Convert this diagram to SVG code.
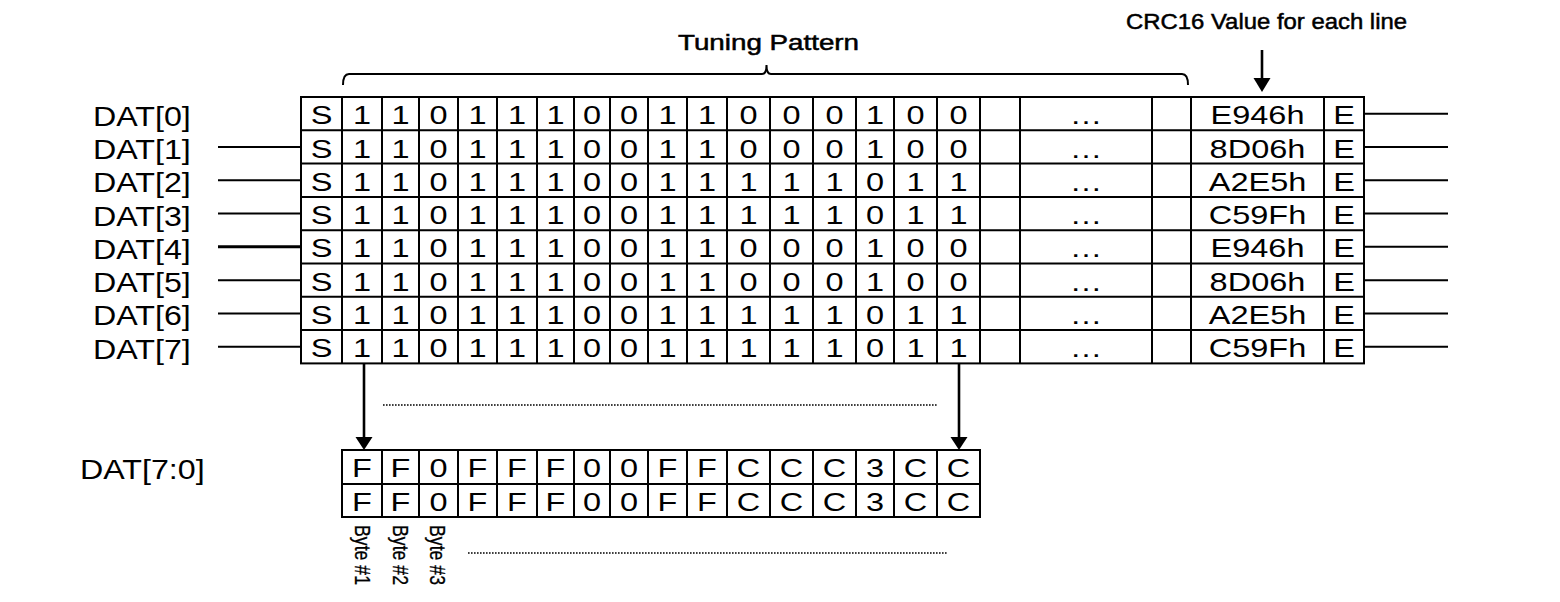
<svg xmlns="http://www.w3.org/2000/svg" width="1560" height="602" viewBox="0 0 1560 602">
<style>
.t{font-family:"Liberation Sans",Arial,sans-serif;font-size:25px;fill:#000;text-anchor:middle}
.lb{font-family:"Liberation Sans",Arial,sans-serif;font-size:28px;fill:#000}
.by{font-family:"Liberation Sans",Arial,sans-serif;font-size:22px;fill:#000;stroke:#000;stroke-width:0.3}
.hd{font-family:"Liberation Sans",Arial,sans-serif;font-size:22px;fill:#000;stroke:#000;stroke-width:0.5}
.g{stroke:#000;stroke-width:2;fill:none}
.ln{stroke:#000;stroke-width:2;fill:none}
.ar{stroke:#000;stroke-width:2.6;fill:none}
.dot{stroke:#000;stroke-width:1.6;stroke-dasharray:1.6 1.4;fill:none}
</style>
<rect width="1560" height="602" fill="#fff"/>

<!-- headings -->
<g id="heading-tuning">
<text class="hd" x="678" y="49.5" textLength="181" lengthAdjust="spacingAndGlyphs">Tuning Pattern</text>
<path class="g" d="M343,85 Q343,74 349,74 L762,74 Q766.5,74 766.5,65 Q766.5,74 771,74 L1182,74 Q1188,74 1188,85"/>
</g>
<g id="heading-crc">
<text class="hd" x="1126" y="28.5" textLength="281" lengthAdjust="spacingAndGlyphs">CRC16 Value for each line</text>
</g>

<!-- top grid -->
<g id="grid-top" class="g">
<rect x="301" y="97" width="1063" height="266.4"/>
<path d="M342,97V363.4M382,97V363.4M419,97V363.4M458,97V363.4M497,97V363.4M537,97V363.4M574,97V363.4M610,97V363.4M648,97V363.4M687,97V363.4M727,97V363.4M770,97V363.4M813,97V363.4M856,97V363.4M894,97V363.4M937,97V363.4M980,97V363.4M1020,97V363.4M1152,97V363.4M1191,97V363.4M1324,97V363.4"/>
<path d="M301,130.3H1364M301,163.6H1364M301,196.9H1364M301,230.2H1364M301,263.5H1364M301,296.8H1364M301,330.1H1364"/>
</g>

<!-- row labels -->
<g id="labels" class="lb" transform="scale(1.15 1)">
<text x="80.9" y="125.7">DAT[0]</text>
<text x="80.9" y="159">DAT[1]</text>
<text x="80.9" y="192.3">DAT[2]</text>
<text x="80.9" y="225.6">DAT[3]</text>
<text x="80.9" y="258.9">DAT[4]</text>
<text x="80.9" y="292.2">DAT[5]</text>
<text x="80.9" y="325.5">DAT[6]</text>
<text x="80.9" y="358.8">DAT[7]</text>
<text x="69.6" y="479.3">DAT[7:0]</text>
</g>

<!-- rows (scaled x by 1.3) -->
<g id="row0" class="t" transform="scale(1.3 1)">
<text x="247.31" y="124.3">S</text><text x="278.46" y="124.3">1</text><text x="308.08" y="124.3">1</text><text x="337.31" y="124.3">0</text><text x="367.31" y="124.3">1</text><text x="397.69" y="124.3">1</text><text x="427.31" y="124.3">1</text><text x="455.38" y="124.3">0</text><text x="483.85" y="124.3">0</text><text x="513.46" y="124.3">1</text><text x="543.85" y="124.3">1</text><text x="575.77" y="124.3">0</text><text x="608.85" y="124.3">0</text><text x="641.92" y="124.3">0</text><text x="673.08" y="124.3">1</text><text x="704.23" y="124.3">0</text><text x="737.31" y="124.3">0</text><text x="835.38" y="124.3">…</text><text x="967.31" y="124.3">E946h</text><text x="1033.85" y="124.3">E</text>
</g>
<g id="row1" class="t" transform="scale(1.3 1)">
<text x="247.31" y="157.6">S</text><text x="278.46" y="157.6">1</text><text x="308.08" y="157.6">1</text><text x="337.31" y="157.6">0</text><text x="367.31" y="157.6">1</text><text x="397.69" y="157.6">1</text><text x="427.31" y="157.6">1</text><text x="455.38" y="157.6">0</text><text x="483.85" y="157.6">0</text><text x="513.46" y="157.6">1</text><text x="543.85" y="157.6">1</text><text x="575.77" y="157.6">0</text><text x="608.85" y="157.6">0</text><text x="641.92" y="157.6">0</text><text x="673.08" y="157.6">1</text><text x="704.23" y="157.6">0</text><text x="737.31" y="157.6">0</text><text x="835.38" y="157.6">…</text><text x="967.31" y="157.6">8D06h</text><text x="1033.85" y="157.6">E</text>
</g>
<g id="row2" class="t" transform="scale(1.3 1)">
<text x="247.31" y="190.9">S</text><text x="278.46" y="190.9">1</text><text x="308.08" y="190.9">1</text><text x="337.31" y="190.9">0</text><text x="367.31" y="190.9">1</text><text x="397.69" y="190.9">1</text><text x="427.31" y="190.9">1</text><text x="455.38" y="190.9">0</text><text x="483.85" y="190.9">0</text><text x="513.46" y="190.9">1</text><text x="543.85" y="190.9">1</text><text x="575.77" y="190.9">1</text><text x="608.85" y="190.9">1</text><text x="641.92" y="190.9">1</text><text x="673.08" y="190.9">0</text><text x="704.23" y="190.9">1</text><text x="737.31" y="190.9">1</text><text x="835.38" y="190.9">…</text><text x="967.31" y="190.9">A2E5h</text><text x="1033.85" y="190.9">E</text>
</g>
<g id="row3" class="t" transform="scale(1.3 1)">
<text x="247.31" y="224.2">S</text><text x="278.46" y="224.2">1</text><text x="308.08" y="224.2">1</text><text x="337.31" y="224.2">0</text><text x="367.31" y="224.2">1</text><text x="397.69" y="224.2">1</text><text x="427.31" y="224.2">1</text><text x="455.38" y="224.2">0</text><text x="483.85" y="224.2">0</text><text x="513.46" y="224.2">1</text><text x="543.85" y="224.2">1</text><text x="575.77" y="224.2">1</text><text x="608.85" y="224.2">1</text><text x="641.92" y="224.2">1</text><text x="673.08" y="224.2">0</text><text x="704.23" y="224.2">1</text><text x="737.31" y="224.2">1</text><text x="835.38" y="224.2">…</text><text x="967.31" y="224.2">C59Fh</text><text x="1033.85" y="224.2">E</text>
</g>
<g id="row4" class="t" transform="scale(1.3 1)">
<text x="247.31" y="257.5">S</text><text x="278.46" y="257.5">1</text><text x="308.08" y="257.5">1</text><text x="337.31" y="257.5">0</text><text x="367.31" y="257.5">1</text><text x="397.69" y="257.5">1</text><text x="427.31" y="257.5">1</text><text x="455.38" y="257.5">0</text><text x="483.85" y="257.5">0</text><text x="513.46" y="257.5">1</text><text x="543.85" y="257.5">1</text><text x="575.77" y="257.5">0</text><text x="608.85" y="257.5">0</text><text x="641.92" y="257.5">0</text><text x="673.08" y="257.5">1</text><text x="704.23" y="257.5">0</text><text x="737.31" y="257.5">0</text><text x="835.38" y="257.5">…</text><text x="967.31" y="257.5">E946h</text><text x="1033.85" y="257.5">E</text>
</g>
<g id="row5" class="t" transform="scale(1.3 1)">
<text x="247.31" y="290.8">S</text><text x="278.46" y="290.8">1</text><text x="308.08" y="290.8">1</text><text x="337.31" y="290.8">0</text><text x="367.31" y="290.8">1</text><text x="397.69" y="290.8">1</text><text x="427.31" y="290.8">1</text><text x="455.38" y="290.8">0</text><text x="483.85" y="290.8">0</text><text x="513.46" y="290.8">1</text><text x="543.85" y="290.8">1</text><text x="575.77" y="290.8">0</text><text x="608.85" y="290.8">0</text><text x="641.92" y="290.8">0</text><text x="673.08" y="290.8">1</text><text x="704.23" y="290.8">0</text><text x="737.31" y="290.8">0</text><text x="835.38" y="290.8">…</text><text x="967.31" y="290.8">8D06h</text><text x="1033.85" y="290.8">E</text>
</g>
<g id="row6" class="t" transform="scale(1.3 1)">
<text x="247.31" y="324.1">S</text><text x="278.46" y="324.1">1</text><text x="308.08" y="324.1">1</text><text x="337.31" y="324.1">0</text><text x="367.31" y="324.1">1</text><text x="397.69" y="324.1">1</text><text x="427.31" y="324.1">1</text><text x="455.38" y="324.1">0</text><text x="483.85" y="324.1">0</text><text x="513.46" y="324.1">1</text><text x="543.85" y="324.1">1</text><text x="575.77" y="324.1">1</text><text x="608.85" y="324.1">1</text><text x="641.92" y="324.1">1</text><text x="673.08" y="324.1">0</text><text x="704.23" y="324.1">1</text><text x="737.31" y="324.1">1</text><text x="835.38" y="324.1">…</text><text x="967.31" y="324.1">A2E5h</text><text x="1033.85" y="324.1">E</text>
</g>
<g id="row7" class="t" transform="scale(1.3 1)">
<text x="247.31" y="357.4">S</text><text x="278.46" y="357.4">1</text><text x="308.08" y="357.4">1</text><text x="337.31" y="357.4">0</text><text x="367.31" y="357.4">1</text><text x="397.69" y="357.4">1</text><text x="427.31" y="357.4">1</text><text x="455.38" y="357.4">0</text><text x="483.85" y="357.4">0</text><text x="513.46" y="357.4">1</text><text x="543.85" y="357.4">1</text><text x="575.77" y="357.4">1</text><text x="608.85" y="357.4">1</text><text x="641.92" y="357.4">1</text><text x="673.08" y="357.4">0</text><text x="704.23" y="357.4">1</text><text x="737.31" y="357.4">1</text><text x="835.38" y="357.4">…</text><text x="967.31" y="357.4">C59Fh</text><text x="1033.85" y="357.4">E</text>
</g>

<!-- bottom grid -->
<g id="grid-bottom">
<g class="g">
<rect x="342" y="450" width="638" height="67"/>
<path d="M382,450V517M419,450V517M458,450V517M497,450V517M537,450V517M574,450V517M610,450V517M648,450V517M687,450V517M727,450V517M770,450V517M813,450V517M856,450V517M894,450V517M937,450V517M342,484H980"/>
</g>
<g class="t" transform="scale(1.3 1)">
<text x="278.46" y="477.5">F</text><text x="308.08" y="477.5">F</text><text x="337.31" y="477.5">0</text><text x="367.31" y="477.5">F</text><text x="397.69" y="477.5">F</text><text x="427.31" y="477.5">F</text><text x="455.38" y="477.5">0</text><text x="483.85" y="477.5">0</text><text x="513.46" y="477.5">F</text><text x="543.85" y="477.5">F</text><text x="575.77" y="477.5">C</text><text x="608.85" y="477.5">C</text><text x="641.92" y="477.5">C</text><text x="673.08" y="477.5">3</text><text x="704.23" y="477.5">C</text><text x="737.31" y="477.5">C</text>
<text x="278.46" y="510.7">F</text><text x="308.08" y="510.7">F</text><text x="337.31" y="510.7">0</text><text x="367.31" y="510.7">F</text><text x="397.69" y="510.7">F</text><text x="427.31" y="510.7">F</text><text x="455.38" y="510.7">0</text><text x="483.85" y="510.7">0</text><text x="513.46" y="510.7">F</text><text x="543.85" y="510.7">F</text><text x="575.77" y="510.7">C</text><text x="608.85" y="510.7">C</text><text x="641.92" y="510.7">C</text><text x="673.08" y="510.7">3</text><text x="704.23" y="510.7">C</text><text x="737.31" y="510.7">C</text>
</g>
</g>

<!-- byte labels -->
<g id="byte-labels" class="by">
<text transform="translate(354.5 525) rotate(90)" textLength="60" lengthAdjust="spacingAndGlyphs">Byte #1</text>
<text transform="translate(393 525) rotate(90)" textLength="60" lengthAdjust="spacingAndGlyphs">Byte #2</text>
<text transform="translate(429.5 525) rotate(90)" textLength="60" lengthAdjust="spacingAndGlyphs">Byte #3</text>
</g>

<!-- connectors -->
<g id="connectors">
<g class="ln">
<path d="M218,146.95H301M218,180.25H301M218,213.55H301M218,280.15H301M218,313.45H301M218,346.75H301"/>
<path d="M218,246.85H301" stroke-width="3"/>
<path d="M1364,113.65H1448M1364,146.95H1448M1364,180.25H1448M1364,213.55H1448M1364,246.85H1448M1364,280.15H1448M1364,313.45H1448M1364,346.75H1448"/>
</g>
<g class="ar">
<path d="M1262,50V80"/>
<path d="M364,363.4V440"/>
<path d="M959,363.4V440"/>
</g>
<polygon points="1253.5,78 1270.5,78 1262,92"/>
<polygon points="355.5,437 372.5,437 364,450"/>
<polygon points="950.5,437 967.5,437 959,450"/>
<path class="dot" d="M383,405H938"/>
<path class="dot" d="M468,553H948"/>
</g>
</svg>
